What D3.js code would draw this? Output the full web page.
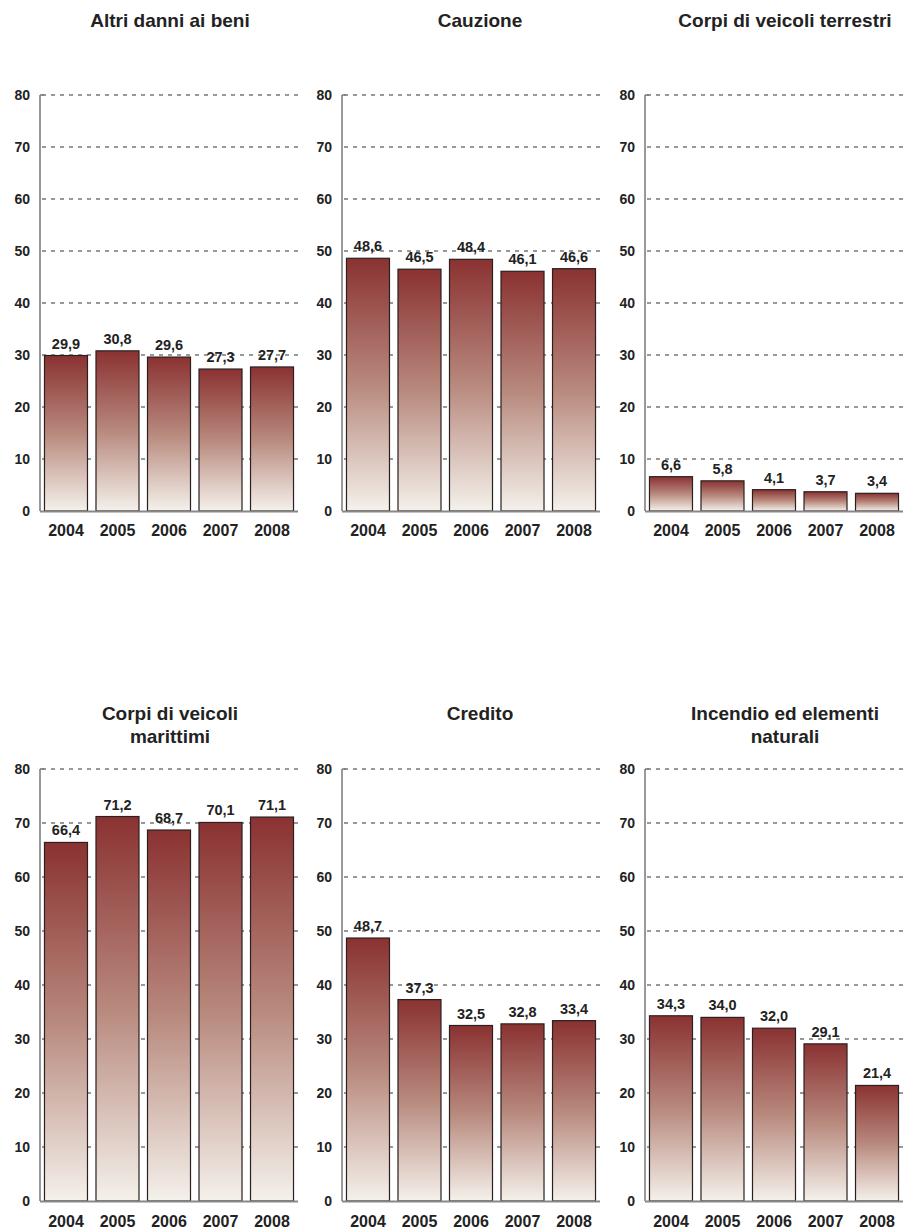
<!DOCTYPE html>
<html><head><meta charset="utf-8">
<script src="https://cdn.jsdelivr.net/npm/d3@7"></script>
<style>body{margin:0;background:#fff}svg{display:block}text{font-family:"Liberation Sans",Arial,sans-serif;font-weight:bold;fill:#222}</style>
</head><body>
<script>
const years = ["2004","2005","2006","2007","2008"];
const titles = [["Altri danni ai beni"],["Cauzione"],["Corpi di veicoli terrestri"],["Corpi di veicoli","marittimi"],["Credito"],["Incendio ed elementi","naturali"]];
const altriDanni = [29.9,30.8,29.6,27.3,27.7];
const cauzione = [48.6,46.5,48.4,46.1,46.6];
const corpiTerrestri = [6.6,5.8,4.1,3.7,3.4];
const corpiMarittimi = [66.4,71.2,68.7,70.1,71.1];
const credito = [48.7,37.3,32.5,32.8,33.4];
const incendio = [34.3,34.0,32.0,29.1,21.4];
const yTicks = [0,10,20,30,40,50,60,70,80];
const series = [altriDanni,cauzione,corpiTerrestri,corpiMarittimi,credito,incendio];

const W=903,H=1230;
const svg=d3.select("body").append("svg").attr("width",W).attr("height",H);
const defs=svg.append("defs");
const g0=defs.append("linearGradient").attr("id","bg").attr("x1",0).attr("y1",0).attr("x2",0).attr("y2",1);
g0.append("stop").attr("offset","0%").attr("stop-color","#8a3232");
g0.append("stop").attr("offset","50%").attr("stop-color","#b8897d");
g0.append("stop").attr("offset","100%").attr("stop-color","#f4f1eb");

const colX=[40,342,645], pw=258;
const rows=[{top:95,bot:511,title:[27],yl:536},{top:769,bot:1201,title:[720],yl:1227}];
const titleCx=[170,480,785];
const fmt=v=>d3.format(".1f")(v).replace(".",",");

series.forEach((vals,i)=>{
  const c=i%3, r=Math.floor(i/3), R=rows[r], x0=colX[c];
  const x=d3.scaleBand().domain(years).range([x0,x0+pw]).paddingInner(0.165).paddingOuter(0.087);
  const y=d3.scaleLinear().domain([0,80]).range([R.bot,R.top]);
  const g=svg.append("g");
  titles[i].forEach((t,k)=>{
    g.append("text").attr("x",titleCx[c]).attr("y",R.title[0]+k*23).attr("text-anchor","middle").attr("font-size",19).text(t);
  });
  g.selectAll(".gl").data(yTicks.filter(d=>d>0)).join("line")
    .attr("x1",x0+2).attr("x2",x0+pw).attr("y1",d=>y(d)).attr("y2",d=>y(d))
    .attr("stroke","#333").attr("stroke-width",1).attr("stroke-dasharray","4,5");
  g.selectAll(".yl").data(yTicks).join("text")
    .attr("x",x0-10).attr("y",d=>y(d)+5).attr("text-anchor","end").attr("font-size",14).text(d=>d);
  g.selectAll(".b").data(vals).join("rect")
    .attr("x",(d,j)=>x(years[j])).attr("width",x.bandwidth())
    .attr("y",d=>y(d)).attr("height",d=>y(0)-y(d))
    .attr("fill","url(#bg)").attr("stroke","#2a2020").attr("stroke-width",1.2);
  g.selectAll(".v").data(vals).join("text")
    .attr("x",(d,j)=>x(years[j])+x.bandwidth()/2).attr("y",d=>y(d)-7)
    .attr("text-anchor","middle").attr("font-size",14.5).text(fmt);
  g.append("line").attr("x1",x0).attr("x2",x0).attr("y1",R.top).attr("y2",R.bot).attr("stroke","#777").attr("stroke-width",1.5);
  g.append("line").attr("x1",x0).attr("x2",x0+pw).attr("y1",R.bot+0.5).attr("y2",R.bot+0.5).attr("stroke","#888").attr("stroke-width",2);
  g.append("line").attr("x1",x0).attr("x2",x0+4).attr("y1",R.top).attr("y2",R.top).attr("stroke","#777").attr("stroke-width",1.5);
  g.selectAll(".xl").data(years).join("text")
    .attr("x",d=>x(d)+x.bandwidth()/2).attr("y",R.yl).attr("text-anchor","middle").attr("font-size",16).text(d=>d);
});
</script>
</body></html>
